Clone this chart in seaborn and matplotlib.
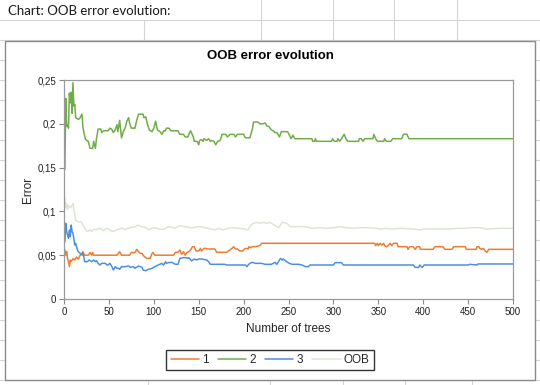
import pandas as pd
import seaborn as sns
import matplotlib.pyplot as plt
from matplotlib.lines import Line2D
from matplotlib.patches import Rectangle

# ---- data (tree number, error) ----
trees_1 = [1, 2, 3, 4, 5, 6, 7, 8, 10, 12, 14, 16, 18, 20, 21, 23, 27, 29, 31, 32,
           33, 59, 62, 64, 73, 75, 79, 81, 83, 85, 87, 88, 90, 92, 96, 98, 99, 101, 122, 124,
           127, 129, 131, 133, 135, 137, 139, 141, 143, 145, 147, 150, 152, 153, 156, 158, 159, 168, 170, 181,
           183, 185, 189, 191, 193, 196, 199, 201, 203, 205, 206, 208, 210, 213, 218, 220, 346, 347, 349, 350,
           352, 354, 356, 357, 359, 361, 363, 365, 367, 371, 372, 382, 383, 385, 389, 391, 393, 396, 397, 411,
           413, 422, 424, 432, 434, 447, 448, 459, 460, 462, 463, 465, 467, 469, 471, 473, 500]
error_1 = [0.056, 0.050, 0.054, 0.046, 0.043, 0.037, 0.0445, 0.043, 0.046, 0.0445,
           0.048, 0.0453, 0.050, 0.052, 0.054, 0.050, 0.050, 0.053, 0.050, 0.053,
           0.050, 0.050, 0.054, 0.050, 0.050, 0.053, 0.053, 0.0567, 0.054, 0.052,
           0.052, 0.050, 0.048, 0.0464, 0.0464, 0.052, 0.053, 0.050, 0.050, 0.0533,
           0.0533, 0.0559, 0.051, 0.054, 0.050, 0.0533, 0.054, 0.0559, 0.0597, 0.0597,
           0.0548, 0.0548, 0.0578, 0.0548, 0.0578, 0.0578, 0.0571, 0.0571, 0.0533, 0.0533,
           0.0548, 0.0559, 0.0597, 0.0571, 0.0571, 0.0548, 0.0548, 0.0571, 0.0578, 0.0571,
           0.0597, 0.0586, 0.0597, 0.0597, 0.0609, 0.0636, 0.0636, 0.0609, 0.0636, 0.0609,
           0.0636, 0.0616, 0.0636, 0.0609, 0.0597, 0.0609, 0.0636, 0.0609, 0.0636, 0.0636,
           0.0597, 0.0597, 0.0567, 0.0597, 0.0597, 0.0567, 0.0597, 0.0597, 0.0567, 0.0567,
           0.0597, 0.0597, 0.0567, 0.0567, 0.0597, 0.0597, 0.0567, 0.0567, 0.0597, 0.0597,
           0.0578, 0.0567, 0.0578, 0.0548, 0.0533, 0.0567, 0.0567]

trees_2 = [1, 2, 3, 4, 5, 6, 7, 8, 9, 10, 11, 12, 13, 16, 18, 20, 21, 22, 24, 27,
           29, 32, 33, 35, 36, 38, 41, 42, 44, 49, 51, 53, 55, 57, 59, 60, 62, 64, 66, 68,
           70, 72, 73, 75, 79, 81, 83, 88, 89, 91, 93, 95, 98, 100, 102, 104, 107, 109, 111, 113,
           114, 117, 119, 127, 129, 133, 135, 138, 139, 141, 144, 145, 148, 150, 151, 153, 155, 156, 159, 161,
           163, 164, 167, 169, 171, 174, 176, 180, 182, 185, 189, 191, 193, 200, 202, 207, 210, 211, 216, 218,
           222, 224, 226, 228, 231, 233, 235, 237, 240, 242, 249, 251, 253, 255, 257, 276, 277, 279, 280, 281,
           298, 299, 301, 304, 305, 307, 309, 312, 314, 316, 328, 329, 331, 333, 335, 344, 345, 347, 349, 356,
           357, 359, 364, 366, 376, 378, 382, 384, 500]
error_2 = [0.148, 0.229, 0.197, 0.199, 0.195, 0.235, 0.224, 0.236, 0.212, 0.247,
           0.220, 0.222, 0.207, 0.205, 0.207, 0.211, 0.197, 0.191, 0.182, 0.180,
           0.172, 0.172, 0.180, 0.172, 0.182, 0.194, 0.194, 0.190, 0.192, 0.192,
           0.195, 0.194, 0.190, 0.193, 0.199, 0.191, 0.204, 0.184, 0.191, 0.195,
           0.203, 0.207, 0.201, 0.195, 0.195, 0.204, 0.211, 0.211, 0.207, 0.208,
           0.199, 0.193, 0.191, 0.195, 0.203, 0.193, 0.191, 0.188, 0.192, 0.192,
           0.195, 0.195, 0.192, 0.192, 0.188, 0.188, 0.185, 0.185, 0.188, 0.192,
           0.185, 0.180, 0.180, 0.176, 0.181, 0.182, 0.180, 0.183, 0.181, 0.183,
           0.180, 0.181, 0.180, 0.176, 0.180, 0.181, 0.188, 0.188, 0.185, 0.188,
           0.188, 0.185, 0.188, 0.188, 0.184, 0.184, 0.195, 0.202, 0.202, 0.200,
           0.200, 0.201, 0.1975, 0.197, 0.193, 0.192, 0.190, 0.190, 0.185, 0.191,
           0.191, 0.187, 0.183, 0.187, 0.183, 0.183, 0.180, 0.180, 0.183, 0.180,
           0.180, 0.183, 0.180, 0.180, 0.183, 0.180, 0.183, 0.188, 0.183, 0.180,
           0.180, 0.183, 0.183, 0.180, 0.183, 0.183, 0.188, 0.183, 0.180, 0.180,
           0.183, 0.180, 0.180, 0.183, 0.183, 0.188, 0.188, 0.183, 0.183]

trees_3 = [1, 2, 3, 4, 5, 6, 7, 8, 9, 10, 12, 13, 15, 16, 18, 20, 21, 22, 23, 26,
           28, 31, 33, 35, 36, 38, 40, 42, 46, 48, 49, 51, 53, 55, 57, 59, 61, 62, 64, 68,
           72, 74, 77, 79, 83, 87, 88, 91, 94, 98, 101, 105, 109, 111, 113, 114, 116, 120, 124, 127,
           129, 133, 136, 138, 139, 142, 145, 148, 150, 153, 159, 161, 163, 179, 181, 202, 204, 205, 207, 210,
           213, 220, 224, 231, 235, 237, 241, 243, 244, 248, 251, 254, 261, 265, 269, 272, 274, 300, 302, 309,
           311, 389, 391, 395, 396, 399, 401, 450, 452, 460, 461, 500]
error_3 = [0.0654, 0.0864, 0.0769, 0.0731, 0.0693, 0.0788, 0.0712, 0.0845, 0.0769, 0.0750,
           0.0616, 0.0635, 0.0559, 0.0540, 0.0521, 0.0502, 0.0521, 0.0483, 0.0426, 0.0426,
           0.0445, 0.0426, 0.0445, 0.0426, 0.0438, 0.0407, 0.0388, 0.0407, 0.0407, 0.0388,
           0.0388, 0.0407, 0.0377, 0.0331, 0.0369, 0.0350, 0.0350, 0.0339, 0.0369, 0.0369,
           0.0377, 0.0362, 0.0369, 0.0350, 0.0377, 0.0362, 0.0331, 0.0323, 0.0339, 0.0350,
           0.0369, 0.0388, 0.0407, 0.0388, 0.0426, 0.0407, 0.0415, 0.0419, 0.0396, 0.0396,
           0.0464, 0.0472, 0.0472, 0.0464, 0.0472, 0.0434, 0.0457, 0.0445, 0.0457, 0.0457,
           0.0445, 0.0426, 0.0396, 0.0396, 0.0388, 0.0388, 0.0369, 0.0388, 0.0407, 0.0419,
           0.0407, 0.0407, 0.0396, 0.0396, 0.0419, 0.0396, 0.0464, 0.0445, 0.0457, 0.0426,
           0.0407, 0.0396, 0.0396, 0.0388, 0.0369, 0.0369, 0.0388, 0.0388, 0.0415, 0.0415,
           0.0388, 0.0388, 0.0361, 0.0361, 0.0388, 0.0361, 0.0388, 0.0388, 0.0396, 0.0388,
           0.0400, 0.0400]

trees_oob = [1, 2, 3, 4, 5, 7, 9, 10, 11, 13, 16, 19, 21, 23, 26, 29, 31, 33, 36, 40,
             44, 47, 51, 53, 57, 60, 64, 68, 72, 75, 79, 82, 85, 90, 94, 98, 103, 107, 111, 116,
             124, 129, 135, 142, 150, 157, 164, 168, 172, 177, 183, 189, 194, 202, 205, 208, 211, 215, 218, 222,
             226, 229, 233, 239, 241, 243, 248, 252, 268, 276, 285, 292, 300, 307, 315, 322, 330, 337, 348, 352,
             359, 365, 374, 389, 396, 402, 430, 437, 448, 452, 463, 471, 486, 500]
error_oob = [0.115, 0.104, 0.109, 0.102, 0.107, 0.104, 0.107, 0.109, 0.102, 0.090,
             0.088, 0.088, 0.0845, 0.081, 0.077, 0.079, 0.077, 0.0795, 0.079, 0.081,
             0.078, 0.081, 0.079, 0.077, 0.078, 0.0795, 0.081, 0.0795, 0.081, 0.082,
             0.082, 0.0845, 0.083, 0.082, 0.079, 0.081, 0.081, 0.0795, 0.0795, 0.0826,
             0.081, 0.0837, 0.0826, 0.0814, 0.0826, 0.0814, 0.0799, 0.0788, 0.0807, 0.0788,
             0.0807, 0.0814, 0.0807, 0.0799, 0.0788, 0.0845, 0.0864, 0.0875, 0.0864, 0.0875,
             0.0864, 0.0875, 0.0852, 0.0814, 0.0845, 0.0875, 0.0864, 0.0826, 0.0826, 0.0807,
             0.0814, 0.0807, 0.0814, 0.0826, 0.0814, 0.0807, 0.0814, 0.0814, 0.0807, 0.0799,
             0.0807, 0.0799, 0.0807, 0.0799, 0.0788, 0.0799, 0.0799, 0.0807, 0.0807, 0.0814,
             0.0814, 0.0799, 0.0807, 0.0807]

series_names = ["1", "2", "3", "OOB"]
series_colors = ["#ED7D31", "#70AD47", "#4A90E2", "#DCE5D6"]
x_ticks = [0, 50, 100, 150, 200, 250, 300, 350, 400, 450, 500]
y_ticks = [0, 0.05, 0.1, 0.15, 0.2, 0.25]
y_tick_labels = ["0", "0,05", "0,1", "0,15", "0,2", "0,25"]

frames = []
for name, t, e in zip(series_names,
                      [trees_1, trees_2, trees_3, trees_oob],
                      [error_1, error_2, error_3, error_oob]):
    frames.append(pd.DataFrame({"tree": t, "error": e, "series": name}))
df = pd.concat(frames, ignore_index=True)

sns.set_style("white")
plt.rcParams["font.family"] = ["Liberation Sans", "DejaVu Sans"]

W, H = 540, 385
fig = plt.figure(figsize=(W / 100, H / 100), dpi=100)


def fx(px):
    return px / W


def fy(py):
    return 1 - py / H


# spreadsheet background grid
grid_c = "#d4d4d4"
for py in range(20, 385, 20):
    fig.add_artist(Line2D([0, 1], [fy(py), fy(py)], color=grid_c, lw=0.8, zorder=-3))
for px in [261, 333, 394, 457]:
    fig.add_artist(Line2D([fx(px), fx(px)], [fy(0), fy(41)], color=grid_c, lw=0.8, zorder=-3))
fig.add_artist(Line2D([fx(144), fx(144)], [fy(20), fy(41)], color=grid_c, lw=0.8, zorder=-3))
for px in [148, 270, 343, 405, 472]:
    fig.add_artist(Line2D([fx(px), fx(px)], [fy(380), fy(385)], color=grid_c, lw=0.8, zorder=-3))

fig.text(fx(8), fy(11), "Chart: OOB error evolution:", fontsize=9.5,
         family=["Lato", "DejaVu Sans"], color="#1a1a1a", va="center", ha="left")

# chart frame
fig.add_artist(Rectangle((fx(5), fy(380)), fx(530), 339 / H, facecolor="white",
                         edgecolor="#8a8a8a", lw=1.0, zorder=-2))

fig.text(fx(270), fy(56), "OOB error evolution", fontsize=9.5, fontweight="bold",
         ha="center", va="center", color="black")

ax = fig.add_axes([fx(64), fy(299), 449 / W, 219 / H])
ax.set_facecolor("none")

sns.lineplot(data=df, x="tree", y="error", hue="series", hue_order=series_names,
             palette=series_colors, estimator=None, sort=False, lw=1.1, ax=ax)

ax.set_xlim(0, 500)
ax.set_ylim(0, 0.25)
ax.set_xticks(x_ticks)
ax.set_xticklabels([str(v) for v in x_ticks])
ax.set_yticks(y_ticks)
ax.set_yticklabels(y_tick_labels)
ax.tick_params(axis="both", direction="out", length=3.5, width=0.8, color="#8a8a8a",
               labelsize=7, labelcolor="#222222", pad=2, left=True, bottom=True)
for s in ax.spines.values():
    s.set_color("#9a9a9a")
    s.set_linewidth(0.9)

ax.set_xlabel("Number of trees", fontsize=8.5)
ax.set_ylabel("Error", fontsize=8.5)
ax.xaxis.set_label_coords((288 - 64) / 449, -(323 - 299) / 219)
ax.yaxis.set_label_coords((34 - 64) / 449, 0.5)

handles, labels = ax.get_legend_handles_labels()
leg = ax.legend(handles, labels, ncol=4, loc="center", bbox_to_anchor=(fx(270), fy(360)),
                bbox_transform=fig.transFigure, fontsize=8.5, frameon=True, fancybox=False,
                handlelength=2.4, handletextpad=0.25, columnspacing=0.8, borderpad=0.35)
leg.get_frame().set_edgecolor("black")
leg.get_frame().set_linewidth(1.0)

fig.savefig("out.png", dpi=100)
